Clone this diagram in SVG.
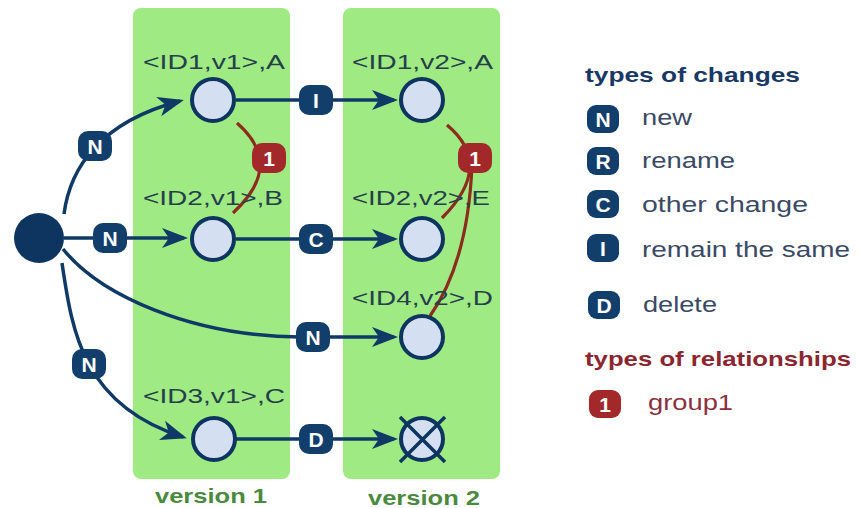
<svg xmlns="http://www.w3.org/2000/svg" width="858" height="508" viewBox="0 0 858 508">
<defs>
<style>
.panel{fill:#a0ea84}
.edge{fill:none;stroke:#0f3a66;stroke-width:3.5}
.rel{fill:none;stroke:#8c2c1c;stroke-width:3.2}
.node{fill:#d4dff2;stroke:#0d3560;stroke-width:4}
.badge{fill:#123e6b}
.rbadge{fill:#a3282a}
.bt{font-family:"Liberation Sans",Arial,sans-serif;font-weight:bold;font-size:21px;fill:#ffffff;text-anchor:middle}
.lbl{font-family:"Liberation Sans",Arial,sans-serif;font-size:21px;fill:#24404a}
.ver{font-family:"Liberation Sans",Arial,sans-serif;font-weight:bold;font-size:21px;fill:#4a8a3e}
.lh{font-family:"Liberation Sans",Arial,sans-serif;font-weight:bold;font-size:21px;fill:#1a3866}
.lhr{font-family:"Liberation Sans",Arial,sans-serif;font-weight:bold;font-size:21px;fill:#8b2530}
.lt{font-family:"Liberation Sans",Arial,sans-serif;font-size:22px;fill:#3a4a66}
.ltr{font-family:"Liberation Sans",Arial,sans-serif;font-size:22px;fill:#8b3040}
</style>
<marker id="arr" markerUnits="userSpaceOnUse" markerWidth="40" markerHeight="30" viewBox="-30 -15 40 30" refX="0" refY="0" orient="auto" overflow="visible">
<path d="M4,0 L-22,-10 L-15,0 L-22,10 Z" fill="#0f3a66"/>
</marker>
</defs>

<g id="panels">
<rect class="panel" x="133" y="8" width="157" height="471" rx="8"/>
<rect class="panel" x="343" y="8" width="157" height="471" rx="8"/>
<text class="ver" x="155" y="503" textLength="112" lengthAdjust="spacingAndGlyphs">version 1</text>
<text class="ver" x="368" y="505" textLength="112" lengthAdjust="spacingAndGlyphs">version 2</text>
</g>

<g id="connectors">
<path class="edge" d="M64 214 C70 168, 100 122, 180 101" marker-end="url(#arr)"/>
<path class="edge" d="M64 238 L184 238" marker-end="url(#arr)"/>
<path class="edge" d="M63 249 C100 295, 190 336, 300 337 L394 337" marker-end="url(#arr)"/>
<path class="edge" d="M62 263 C72 330, 82 405, 183 437" marker-end="url(#arr)"/>
<path class="edge" d="M236 100 L394 100" marker-end="url(#arr)"/>
<path class="edge" d="M236 239 L394 239" marker-end="url(#arr)"/>
<path class="edge" d="M236 439 L394 439" marker-end="url(#arr)"/>
<path class="rel" d="M237 123 Q285 165 233 213"/>
<path class="rel" d="M447 125 Q495 165 442 218"/>
<path class="rel" d="M472 165 Q468 262 430 316"/>
</g>

<g id="edge-badges">
<g id="b-n1"><rect class="badge" x="78" y="131" width="34" height="30" rx="10"/><text class="bt" x="95" y="153.5">N</text></g>
<g id="b-n2"><rect class="badge" x="93" y="223" width="34" height="30" rx="10"/><text class="bt" x="110" y="245.5">N</text></g>
<g id="b-n3"><rect class="badge" x="296" y="322" width="34" height="30" rx="10"/><text class="bt" x="313" y="344.5">N</text></g>
<g id="b-n4"><rect class="badge" x="72" y="349" width="34" height="30" rx="10"/><text class="bt" x="89" y="371.5">N</text></g>
<g id="b-i"><rect class="badge" x="299" y="85" width="34" height="30" rx="10"/><text class="bt" x="316" y="107.5">I</text></g>
<g id="b-c"><rect class="badge" x="299" y="224" width="34" height="30" rx="10"/><text class="bt" x="316" y="246.5">C</text></g>
<g id="b-d"><rect class="badge" x="299" y="424" width="34" height="30" rx="10"/><text class="bt" x="316" y="446.5">D</text></g>
<g id="r-1a"><rect class="rbadge" x="252" y="143" width="34" height="30" rx="10"/><text class="bt" x="269" y="165.5">1</text></g>
<g id="r-1b"><rect class="rbadge" x="458" y="143" width="34" height="30" rx="10"/><text class="bt" x="475" y="165.5">1</text></g>
</g>

<g id="root"><circle cx="39" cy="238" r="25" fill="#0d3560"/></g>

<g id="n-id1v1"><circle class="node" cx="213" cy="100" r="21"/><text class="lbl" x="143" y="69" textLength="142" lengthAdjust="spacingAndGlyphs">&lt;ID1,v1&gt;,A</text></g>
<g id="n-id2v1"><circle class="node" cx="213" cy="239" r="21"/><text class="lbl" x="143" y="205" textLength="140" lengthAdjust="spacingAndGlyphs">&lt;ID2,v1&gt;,B</text></g>
<g id="n-id3v1"><circle class="node" cx="214" cy="439" r="21"/><text class="lbl" x="143" y="403" textLength="142" lengthAdjust="spacingAndGlyphs">&lt;ID3,v1&gt;,C</text></g>
<g id="n-id1v2"><circle class="node" cx="422" cy="100" r="21"/><text class="lbl" x="352" y="69" textLength="141" lengthAdjust="spacingAndGlyphs">&lt;ID1,v2&gt;,A</text></g>
<g id="n-id2v2"><circle class="node" cx="422" cy="239" r="21"/><text class="lbl" x="352" y="205" textLength="138" lengthAdjust="spacingAndGlyphs">&lt;ID2,v2&gt;,E</text></g>
<g id="n-id4v2"><circle class="node" cx="422" cy="337" r="21"/><text class="lbl" x="352" y="305" textLength="141" lengthAdjust="spacingAndGlyphs">&lt;ID4,v2&gt;,D</text></g>
<g id="n-deleted"><circle class="node" cx="422" cy="439" r="21"/><path d="M400 417 L445 462 M445 417 L400 462" stroke="#0d3560" stroke-width="3.5" fill="none"/></g>

<g id="legend">
<text class="lh" x="585" y="82" textLength="215" lengthAdjust="spacingAndGlyphs">types of changes</text>
<g id="l-n"><rect class="badge" x="587" y="105" width="32" height="28" rx="9"/><text class="bt" x="603" y="126.5">N</text><text class="lt" x="642" y="125" textLength="50" lengthAdjust="spacingAndGlyphs">new</text></g>
<g id="l-r"><rect class="badge" x="587" y="147" width="32" height="28" rx="9"/><text class="bt" x="603" y="168.5">R</text><text class="lt" x="642" y="168" textLength="93" lengthAdjust="spacingAndGlyphs">rename</text></g>
<g id="l-c"><rect class="badge" x="587" y="190" width="32" height="28" rx="9"/><text class="bt" x="603" y="211.5">C</text><text class="lt" x="642" y="212" textLength="166" lengthAdjust="spacingAndGlyphs">other change</text></g>
<g id="l-i"><rect class="badge" x="587" y="234" width="32" height="28" rx="9"/><text class="bt" x="603" y="255.5">I</text><text class="lt" x="642" y="257" textLength="208" lengthAdjust="spacingAndGlyphs">remain the same</text></g>
<g id="l-d"><rect class="badge" x="588" y="291" width="32" height="28" rx="9"/><text class="bt" x="604" y="312.5">D</text><text class="lt" x="643" y="312" textLength="74" lengthAdjust="spacingAndGlyphs">delete</text></g>
<text class="lhr" x="585" y="366" textLength="266" lengthAdjust="spacingAndGlyphs">types of relationships</text>
<g id="l-1"><rect class="rbadge" x="589" y="390" width="32" height="28" rx="9"/><text class="bt" x="605" y="411.5">1</text><text class="ltr" x="648" y="410" textLength="85" lengthAdjust="spacingAndGlyphs">group1</text></g>
</g>
</svg>
